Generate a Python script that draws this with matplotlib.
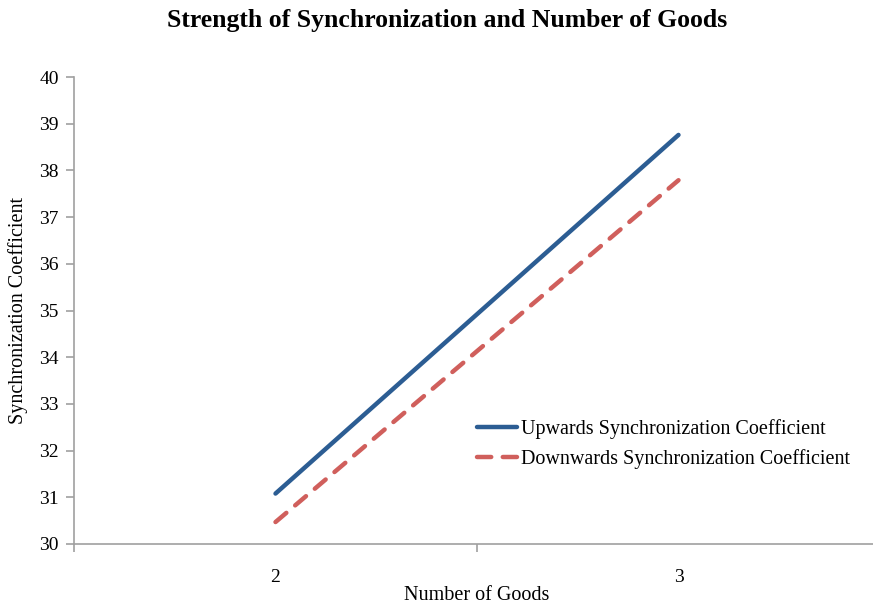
import matplotlib
matplotlib.use("Agg")
import matplotlib.pyplot as plt

categories = ["2", "3"]
upwards = [31.08, 38.76]
downwards = [30.47, 37.79]

plt.rcParams['font.family'] = ['Liberation Serif', 'DejaVu Serif']

fig = plt.figure(figsize=(8.73, 6.07), dpi=100)
ax = fig.add_axes([74/873, 1-544/607, 806/873, (544-77)/607])

x = [i + 2 for i in range(len(categories))]
ax.plot(x, upwards, color='#2C5D93', lw=3.2, solid_capstyle='round',
        label='Upwards Synchronization Coefficient')
ax.plot(x, downwards, color='#D05F5C', lw=3.2, dashes=(3.2, 2.6), dash_capstyle='round',
        label='Downwards Synchronization Coefficient')

ax.set_xlim(1.5, 3.5)
ax.set_ylim(30, 40)
ax.set_yticks(range(30, 41))
ax.set_xticks(x)
ax.set_xticklabels(categories)
ax.set_xticks([1.5, 2.5, 3.5], minor=True)
ax.tick_params(axis='x', which='major', length=0, pad=18, labelsize=14)
ax.tick_params(axis='x', which='minor', length=6, color='#A0A0A0', width=1.2)
ax.tick_params(axis='y', length=6, color='#A0A0A0', width=1.2, labelsize=14, pad=5)

for s in ['top', 'right']:
    ax.spines[s].set_visible(False)
for s in ['left', 'bottom']:
    ax.spines[s].set_color('#A0A0A0')
    ax.spines[s].set_linewidth(1.2)

ax.set_xlabel('Number of Goods', fontsize=14.5, labelpad=0)
ax.set_ylabel('Synchronization Coefficient', fontsize=14.5, labelpad=8)
fig.suptitle('Strength of Synchronization and Number of Goods', fontsize=18.5,
             fontweight='bold', x=447/873, y=1-21/607, va='center')

leg = ax.legend(loc='upper left', bbox_to_anchor=(0.49, 0.285), frameon=False,
                fontsize=14.5, handlelength=2.0, handletextpad=0.2, labelspacing=0.5,
                borderaxespad=0)

fig.savefig('out.png', dpi=100)
